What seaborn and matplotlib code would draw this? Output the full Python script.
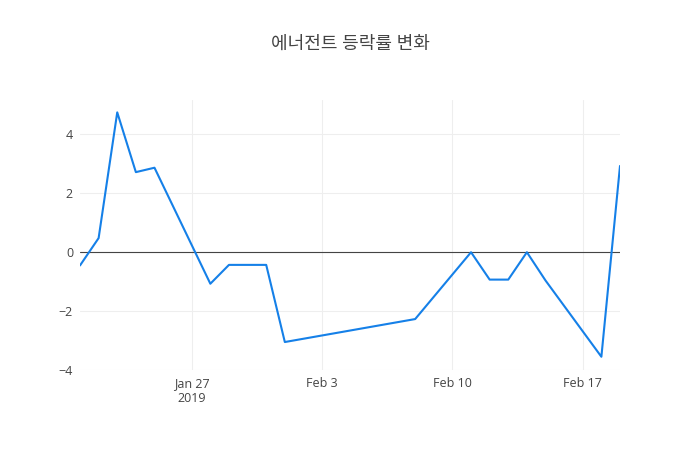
import pandas as pd
import matplotlib
matplotlib.use('Agg')
import matplotlib.pyplot as plt
import seaborn as sns

# daily change rate (%)
dates = ['2019-01-21', '2019-01-22', '2019-01-23', '2019-01-24', '2019-01-25',
         '2019-01-28', '2019-01-29', '2019-01-30', '2019-01-31', '2019-02-01',
         '2019-02-08', '2019-02-11', '2019-02-12', '2019-02-13', '2019-02-14',
         '2019-02-15', '2019-02-18', '2019-02-19']
rates = [-0.45, 0.48, 4.75, 2.72, 2.87,
         -1.07, -0.43, -0.43, -0.43, -3.05,
         -2.27, 0.0, -0.93, -0.93, 0.0,
         -0.96, -3.55, 2.93]

tick_dates = ['2019-01-27', '2019-02-03', '2019-02-10', '2019-02-17']
tick_labels = ['Jan 27\n2019', 'Feb 3', 'Feb 10', 'Feb 17']
y_ticks = [-4, -2, 0, 2, 4]
title = '에너전트 등락률 변화'

df = pd.DataFrame({'date': pd.to_datetime(dates), 'rate': rates})

sns.set_style('white')
plt.rcParams['font.family'] = ['Open Sans', 'Noto Sans CJK KR', 'DejaVu Sans']

fig = plt.figure(figsize=(7, 4.5), dpi=100)
ax = fig.add_axes([80 / 700, 80 / 450, 540 / 700, 270 / 450])

sns.lineplot(data=df, x='date', y='rate', ax=ax, color='#1580e8', linewidth=1.5)

ax.set_xlim(df['date'].min(), df['date'].max())
ax.set_ylim(-3.97, 5.17)

ax.set_xticks(pd.to_datetime(tick_dates))
ax.set_xticklabels(tick_labels)
ax.set_yticks(y_ticks)
ax.set_yticklabels(['\u22124', '\u22122', '0', '2', '4'])

ax.grid(True, color='#eeeeee', linewidth=0.8)
ax.axhline(0, color='#444444', linewidth=0.8, zorder=1)
ax.tick_params(axis='both', length=0, labelsize=9, labelcolor='#444444')
ax.tick_params(axis='x', pad=5)
ax.tick_params(axis='y', pad=5)
for s in ax.spines.values():
    s.set_visible(False)
ax.set_xlabel('')
ax.set_ylabel('')

fig.text(0.5, 1 - 44 / 450, title, ha='center', va='center', fontsize=13,
         color='#444444')

fig.savefig('out.png', dpi=100)
